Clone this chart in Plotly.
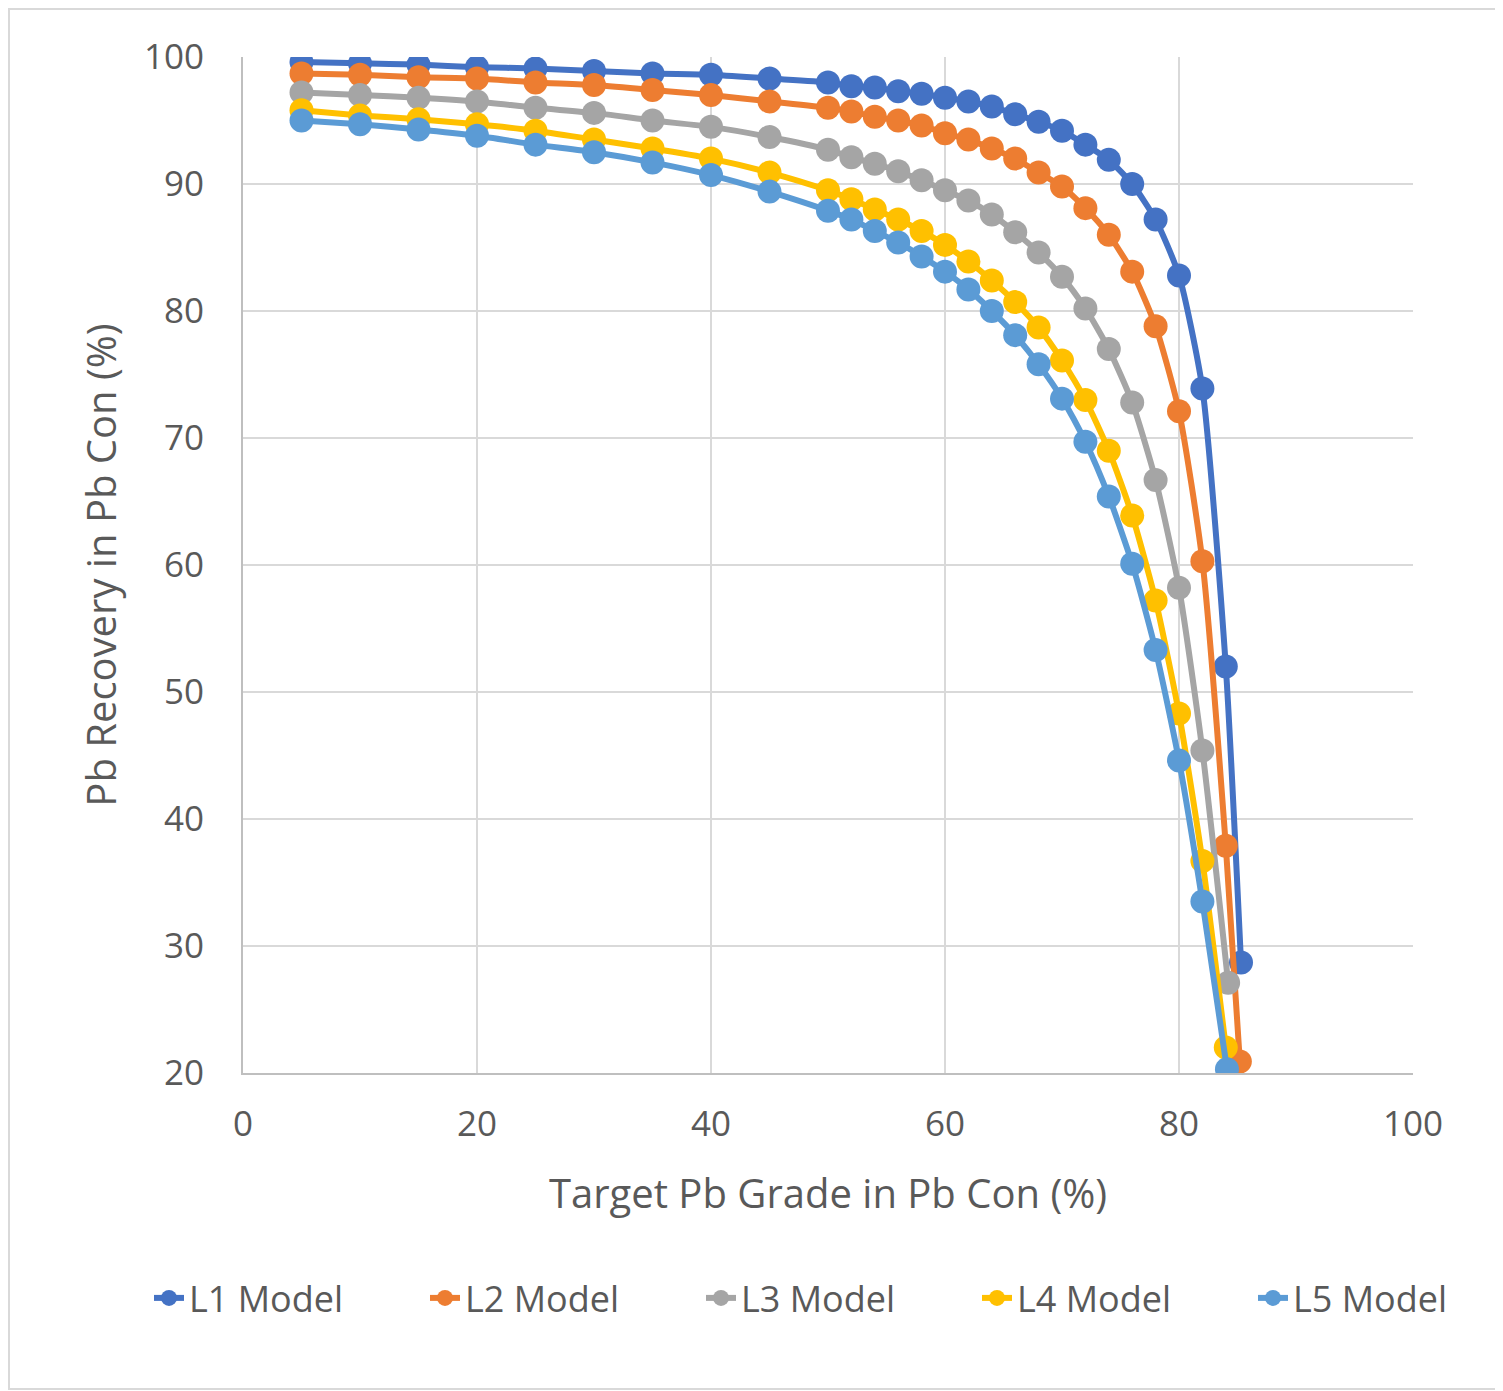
import plotly.graph_objects as go

x_common = [5, 10, 15, 20, 25, 30, 35, 40, 45, 50, 52, 54, 56, 58, 60, 62, 64, 66, 68, 70, 72, 74, 76, 78, 80, 82, 84]
x_l1 = x_common + [85.3]
x_l2 = x_common + [85.2]
x_l3 = x_common[:-1] + [84.2]
x_l4 = x_common[:-1] + [84.0]
x_l5 = x_common[:-1] + [84.1]

l1 = [99.6, 99.5, 99.4, 99.2, 99.1, 98.9, 98.7, 98.6, 98.3, 98.0, 97.7, 97.6, 97.3, 97.1, 96.8, 96.5, 96.1, 95.5, 94.9, 94.2, 93.1, 91.9, 90.0, 87.2, 82.8, 73.9, 52.0, 28.7]
l2 = [98.7, 98.6, 98.4, 98.3, 98.0, 97.8, 97.4, 97.0, 96.5, 96.0, 95.7, 95.3, 95.0, 94.6, 94.0, 93.5, 92.8, 92.0, 90.9, 89.8, 88.1, 86.0, 83.1, 78.8, 72.1, 60.3, 37.9, 20.9]
l3 = [97.2, 97.0, 96.8, 96.5, 96.0, 95.6, 95.0, 94.5, 93.7, 92.7, 92.1, 91.6, 91.0, 90.3, 89.5, 88.7, 87.6, 86.2, 84.6, 82.7, 80.2, 77.0, 72.8, 66.7, 58.2, 45.4, 27.1]
l4 = [95.8, 95.4, 95.1, 94.7, 94.2, 93.5, 92.8, 92.0, 90.9, 89.5, 88.8, 88.0, 87.2, 86.3, 85.2, 83.9, 82.4, 80.7, 78.7, 76.1, 73.0, 69.0, 63.9, 57.2, 48.3, 36.7, 22.0]
l5 = [95.0, 94.7, 94.3, 93.8, 93.1, 92.5, 91.7, 90.7, 89.4, 87.9, 87.2, 86.3, 85.4, 84.3, 83.1, 81.7, 80.0, 78.1, 75.8, 73.1, 69.7, 65.4, 60.1, 53.3, 44.6, 33.5, 20.3]

names = ["L1 Model", "L2 Model", "L3 Model", "L4 Model", "L5 Model"]
colors = ["#4472C4", "#ED7D31", "#A5A5A5", "#FFC000", "#5B9BD5"]
xs = [x_l1, x_l2, x_l3, x_l4, x_l5]
ys = [l1, l2, l3, l4, l5]
legend_ids = ["legend", "legend2", "legend3", "legend4", "legend5"]

fig = go.Figure()
for name, c, xv, yv, lid in zip(names, colors, xs, ys, legend_ids):
    fig.add_trace(go.Scatter(
        x=xv, y=yv, name=name, mode="lines+markers", legend=lid,
        line=dict(color=c, width=6, shape="spline", smoothing=0.6),
        marker=dict(color=c, size=24, line=dict(width=0)),
    ))

font_family = "Open Sans, Liberation Sans, sans-serif"
W, H = 1495, 1383
L, R, T, B = 235, 90, 49, 318
pw, ph = W - L - R, H - T - B

def px(xp):
    return (xp - L) / pw

def py(yp):
    return (T + ph - yp) / ph

legend_left = [141, 417, 693, 969, 1245]
legend_layouts = {}
for lid, lx in zip(legend_ids, legend_left):
    legend_layouts[lid] = dict(orientation="h", x=px(lx), y=py(1290), xanchor="left", yanchor="middle",
                               font=dict(size=36, color="#595959"), bgcolor="rgba(0,0,0,0)")

fig.update_layout(
    width=W, height=H,
    margin=dict(l=L, r=R, t=T, b=B),
    paper_bgcolor="white", plot_bgcolor="white",
    font=dict(family=font_family, color="#595959", size=35),
    showlegend=True,
    **legend_layouts,
    xaxis=dict(range=[0, 100], dtick=20, tick0=0, showgrid=True, gridcolor="#D9D9D9", gridwidth=2,
               zeroline=False, showline=True, linecolor="#BFBFBF", linewidth=2,
               ticks="", ticklabelstandoff=19, tickfont=dict(size=35, color="#595959"),
               title=dict(text="Target Pb Grade in Pb Con (%)", font=dict(size=40, color="#595959"), standoff=35)),
    yaxis=dict(range=[20, 100], dtick=10, tick0=20, showgrid=True, gridcolor="#D9D9D9", gridwidth=2,
               zeroline=False, showline=True, linecolor="#BFBFBF", linewidth=2,
               ticks="", ticklabelstandoff=30, tickfont=dict(size=35, color="#595959"),
               title=dict(text="Pb Recovery in Pb Con (%)", font=dict(size=40, color="#595959"), standoff=15)),
    shapes=[dict(type="rect", xref="paper", yref="paper",
                 x0=px(1), x1=px(W - 2), y0=py(H - 2), y1=py(1),
                 line=dict(color="#D9D9D9", width=2), fillcolor="rgba(0,0,0,0)", layer="below")],
)

fig.write_html("out.html")
